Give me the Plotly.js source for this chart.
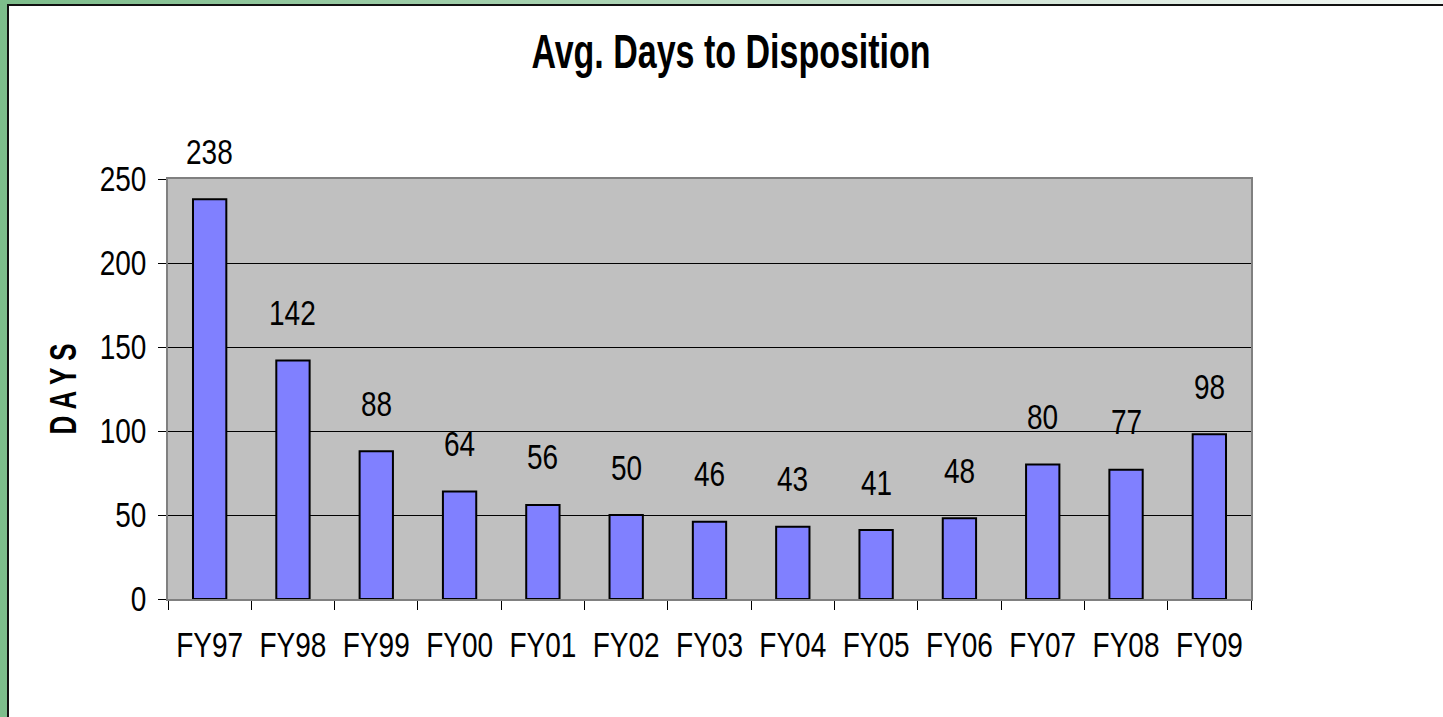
<!DOCTYPE html>
<html>
<head>
<meta charset="utf-8">
<script src="https://cdn.plot.ly/plotly-3.0.1.min.js"></script>
<style>
html,body{margin:0;padding:0;}
body{width:1443px;height:717px;overflow:hidden;position:relative;
 background:linear-gradient(to right,#7dbd8b 0%,#a9d3b2 40%,#d8e8dc 75%,#f4f8f5 100%);}
#frame{position:absolute;left:7px;top:4px;width:1436px;height:713px;background:#fff;
 border-left:2px solid #111;border-top:2px solid #111;box-sizing:border-box;}
#chart{position:absolute;left:0;top:0;width:1434px;height:711px;}
</style>
</head>
<body>
<div id="frame"><div id="chart"></div></div>
<script>
const categories = ["FY97","FY98","FY99","FY00","FY01","FY02","FY03","FY04","FY05","FY06","FY07","FY08","FY09"];
const days = [238,142,88,64,56,50,46,43,41,48,80,77,98];
const yTicks = [0,50,100,150,200,250];

const FONT = '"Liberation Sans Narrow","Arial Narrow","Liberation Sans",Arial,sans-serif';

const trace = {
  type:'bar', x:categories, y:days,
  marker:{color:'#8080FF', line:{color:'#000', width:2}},
  width:0.4, hoverinfo:'skip'
};

const annotations = categories.map((c,i)=>({
  x:c, y:days[i], xref:'x', yref:'y', text:String(days[i]),
  showarrow:false, yanchor:'middle', yshift:47,
  font:{family:FONT, size:28, color:'#000'}
}));

const layout = {
  width:1434, height:711,
  margin:{l:159, r:192, t:173, b:118},
  paper_bgcolor:'#fff', plot_bgcolor:'#C0C0C0',
  showlegend:false,
  title:{text:'<b>Avg. Days to Disposition</b>', x:0.5035, xanchor:'center', y:0.936, yanchor:'middle',
    font:{family:FONT, size:34, color:'#000'}},
  xaxis:{type:'category', tickson:'boundaries', ticks:'outside', ticklen:9, tickcolor:'#000', tickwidth:1,
    showline:true, linecolor:'#808080', linewidth:2, mirror:true, showgrid:false,
    tickfont:{family:FONT, size:28, color:'#000'}, ticklabelstandoff:20, range:[-0.5,12.5], fixedrange:true},
  yaxis:{range:[0,250], tickvals:yTicks, ticks:'outside', ticklen:8, tickcolor:'#000', tickwidth:1,
    showline:true, linecolor:'#808080', linewidth:2, mirror:true,
    showgrid:true, gridcolor:'#000', gridwidth:1, zeroline:false,
    tickfont:{family:FONT, size:28, color:'#000'}, ticklabelstandoff:6,
    title:{text:'<b>D A Y S</b>', standoff:19, font:{family:FONT, size:26, color:'#000'}}},
  annotations:annotations
};

// Stretch text vertically to mimic the tall, condensed face of the original
function stretchText(gd){
  gd.querySelectorAll('text').forEach(t=>{
    if(!t.textContent.trim()) return;
    const bold = t.classList.contains('gtitle') || t.classList.contains('ytitle');
    const k = bold ? 1.42 : 1.22;
    const b = t.getBBox();
    const cy = b.y + b.height/2;
    const prev = t.getAttribute('transform') || '';
    t.setAttribute('transform', prev + ' translate(0 ' + cy + ') scale(1 ' + k + ') translate(0 ' + (-cy) + ')');
  });
}

Plotly.newPlot('chart',[trace],layout,{displayModeBar:false, staticPlot:true}).then(gd=>stretchText(gd));
</script>
</body>
</html>
